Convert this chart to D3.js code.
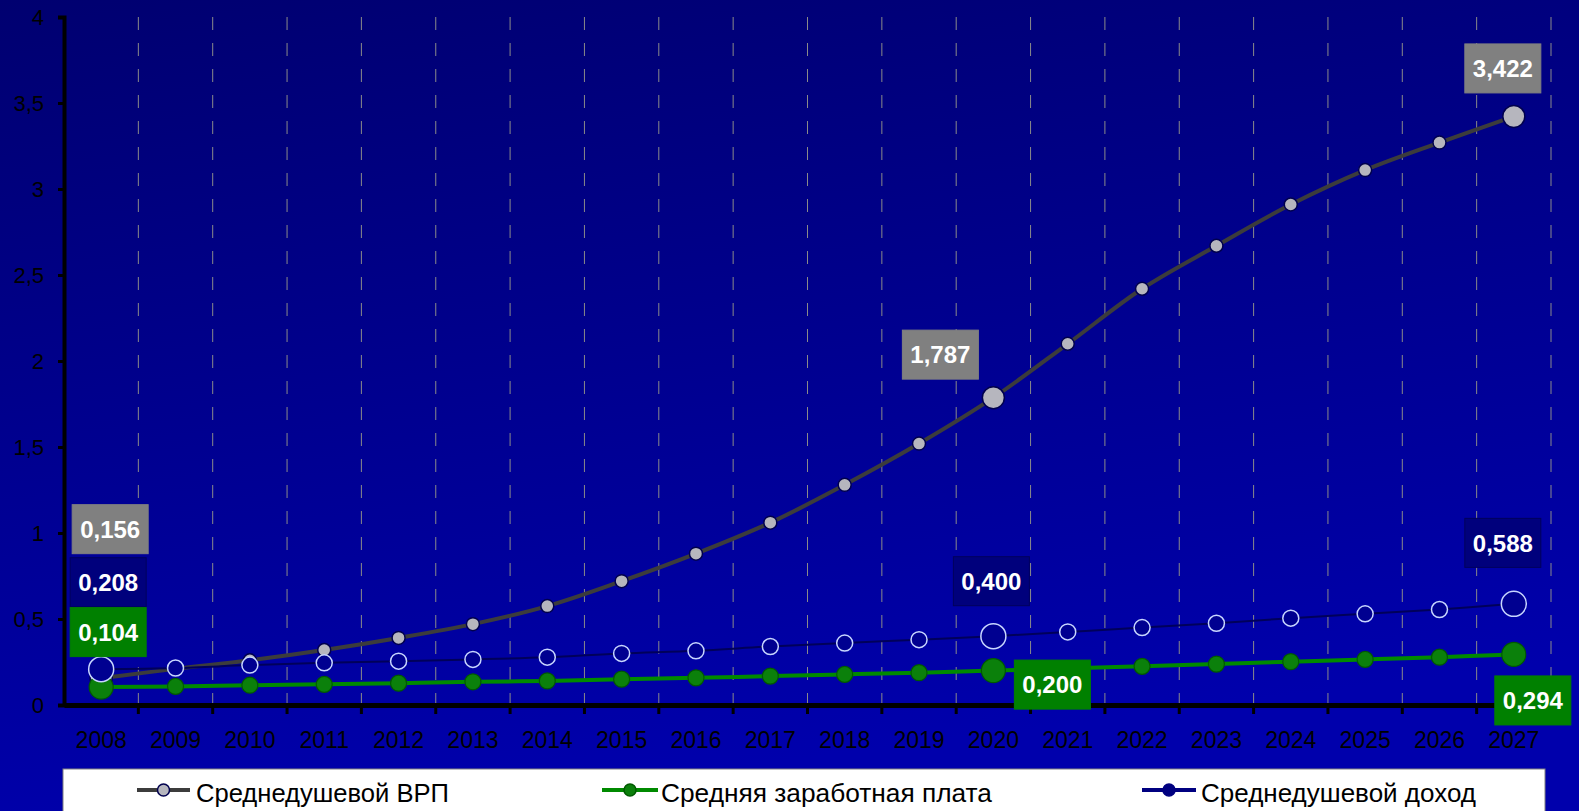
<!DOCTYPE html>
<html>
<head>
<meta charset="utf-8">
<script src="https://cdn.jsdelivr.net/npm/d3@7"></script>
<style>
html,body{margin:0;padding:0;background:#000080;overflow:hidden;}
svg{display:block;}
</style>
</head>
<body>
<svg id="chart" width="1579" height="811"></svg>
<script>
// ---------- data ----------
const years = ["2008","2009","2010","2011","2012","2013","2014","2015","2016","2017",
               "2018","2019","2020","2021","2022","2023","2024","2025","2026","2027"];
const vrp    = [0.156,0.21,0.26,0.32,0.39,0.47,0.575,0.72,0.88,1.06,
                1.28,1.52,1.787,2.10,2.42,2.67,2.91,3.11,3.27,3.422];
const salary = [0.104,0.108,0.115,0.12,0.127,0.135,0.14,0.15,0.158,0.168,
                0.178,0.188,0.200,0.212,0.225,0.238,0.252,0.265,0.278,0.294];
const income = [0.208,0.215,0.232,0.245,0.255,0.265,0.278,0.30,0.315,0.34,
                0.36,0.38,0.400,0.425,0.45,0.475,0.505,0.53,0.555,0.588];
const seriesNames = ["Среднедушевой ВРП","Средняя заработная плата","Среднедушевой доход"];
const yTicks = [0,0.5,1,1.5,2,2.5,3,3.5,4];
const yTickLabels = ["0","0,5","1","1,5","2","2,5","3","3,5","4"];
const highlightYears = ["2008","2020","2027"];

// ---------- styles ----------
const W = 1579, H = 811;
const m = {left:64, right:1551, top:17, bottom:705};
const styles = [
  {line:"#3c3c3c", lw:4, fill:"#b6b6be", stroke:"#00004e", sw:1.5, r:6.5, rBig:11, box:"#808080", boxStroke:"#808080"},
  {line:"#008a00", lw:4, fill:"#0b800b", stroke:"#005a00", sw:1.2, r:8, rBig:12, box:"#008000", boxStroke:"#008000"},
  {line:"#00005a", lw:2, fill:"#000090", stroke:"#c8d6ff", sw:1.5, r:8, rBig:12.5, box:"#00007c", boxStroke:"#00005c"}
];
// label offsets (px) relative to the point: [seriesIndex, year, dx, dy]
const labelPos = [
  [0,"2008",9,-149],[2,"2008",7,-87],[1,"2008",7,-55],
  [0,"2020",-53,-43],[2,"2020",-2,-55],[1,"2020",59,14],
  [0,"2027",-11,-48],[2,"2027",-11,-61],[1,"2027",19,46]
];

const svg = d3.select("#chart");
const defs = svg.append("defs");
const grad = defs.append("linearGradient").attr("id","bg")
  .attr("x1","0").attr("y1","0").attr("x2","0.25").attr("y2","1");
grad.append("stop").attr("offset","0").attr("stop-color","#000070");
grad.append("stop").attr("offset","1").attr("stop-color","#0000ac");
svg.append("rect").attr("width",W).attr("height",H).attr("fill","url(#bg)");

const x = d3.scaleBand().domain(years).range([m.left,m.right]).padding(0);
const y = d3.scaleLinear().domain([0,4]).range([m.bottom,m.top]);
const cx = d => x(d) + x.bandwidth()/2;

// vertical dashed gridlines at category boundaries
const bounds = years.map(d => x(d) + x.bandwidth());
svg.append("g").selectAll("line").data(bounds).join("line")
  .attr("x1",d=>d).attr("x2",d=>d).attr("y1",m.top).attr("y2",m.bottom)
  .attr("stroke","#8a8a8a").attr("stroke-width",1).attr("stroke-dasharray","13,13");

// y axis
const yAxis = svg.append("g").attr("transform",`translate(${m.left},0)`)
  .call(d3.axisLeft(y).tickValues(yTicks).tickFormat((d,i)=>yTickLabels[i]).tickSize(6).tickPadding(10));
yAxis.select(".domain").attr("stroke","#000").attr("stroke-width",4);
yAxis.selectAll(".tick line").attr("stroke","#000").attr("stroke-width",3);
yAxis.selectAll("text").attr("fill","#000").attr("font-size",22)
  .attr("font-family","Liberation Sans, Arial, sans-serif").attr("dx",-4);

// x axis
const xAxis = svg.append("g").attr("transform",`translate(0,${m.bottom})`)
  .call(d3.axisBottom(x).tickSize(0).tickPadding(27));
xAxis.select(".domain").attr("stroke","#000").attr("stroke-width",5);
xAxis.selectAll("text").attr("fill","#000").attr("font-size",23)
  .attr("font-family","Liberation Sans, Arial, sans-serif");
svg.append("g").selectAll("line").data(bounds).join("line")
  .attr("x1",d=>d).attr("x2",d=>d).attr("y1",m.bottom).attr("y2",m.bottom+9)
  .attr("stroke","#000").attr("stroke-width",3);

const allSeries = [vrp, salary, income];
const drawOrder = [0,1,2];
drawOrder.forEach(si => {
  const vals = allSeries[si], st = styles[si];
  const data = years.map((yr,i)=>({yr, v: vals[i]}));
  const line = d3.line().x(d=>cx(d.yr)).y(d=>y(d.v)).curve(d3.curveCatmullRom.alpha(0.5));
  svg.append("path").datum(data).attr("d",line).attr("fill","none")
    .attr("stroke",st.line).attr("stroke-width",st.lw).attr("stroke-linejoin","round");
  svg.append("g").selectAll("circle").data(data).join("circle")
    .attr("cx",d=>cx(d.yr)).attr("cy",d=>y(d.v))
    .attr("r",d=>highlightYears.includes(d.yr)?st.rBig:st.r)
    .attr("fill",st.fill).attr("stroke",st.stroke).attr("stroke-width",st.sw);
});

// data labels
const fmt = v => v.toFixed(3).replace(".",",");
const lg = svg.append("g");
labelPos.forEach(([si,yr,dx,dy]) => {
  const i = years.indexOf(yr);
  const v = allSeries[si][i];
  const px = cx(yr)+dx, py = y(v)+dy;
  const st = styles[si];
  lg.append("rect").attr("x",px-38).attr("y",py-24.5).attr("width",76).attr("height",49)
    .attr("fill",st.box).attr("stroke",st.boxStroke).attr("stroke-width",1);
  lg.append("text").attr("x",px).attr("y",py).attr("dy","0.36em").attr("text-anchor","middle")
    .attr("fill","#fff").attr("font-weight","bold").attr("font-size",24)
    .attr("font-family","Liberation Sans, Arial, sans-serif").text(fmt(v));
});

// legend
const leg = svg.append("g");
leg.append("rect").attr("x",63).attr("y",769).attr("width",1482).attr("height",50)
  .attr("fill","#fff").attr("stroke","#808080").attr("stroke-width",1);
const legItems = [
  {sym:[137,190], tx:196, tw:253},
  {sym:[602,658], tx:661, tw:331},
  {sym:[1142,1196], tx:1201, tw:275}
];
const legY = 790;
legItems.forEach((it,si) => {
  const st = styles[si];
  leg.append("line").attr("x1",it.sym[0]).attr("x2",it.sym[1]).attr("y1",legY).attr("y2",legY)
    .attr("stroke", si===2 ? "#000080" : st.line).attr("stroke-width",4);
  leg.append("circle").attr("cx",(it.sym[0]+it.sym[1])/2).attr("cy",legY).attr("r",6)
    .attr("fill", si===2 ? "#000080" : st.fill).attr("stroke", si===0 ? "#00004e" : (si===2?"#000080":st.stroke)).attr("stroke-width",1.5);
  leg.append("text").attr("x",it.tx).attr("y",802)
    .attr("font-size",26).attr("fill","#000")
    .attr("font-family","Liberation Sans Narrow, Arial Narrow, sans-serif")
    .attr("textLength",it.tw).attr("lengthAdjust","spacingAndGlyphs")
    .text(seriesNames[si]);
});
</script>
</body>
</html>
